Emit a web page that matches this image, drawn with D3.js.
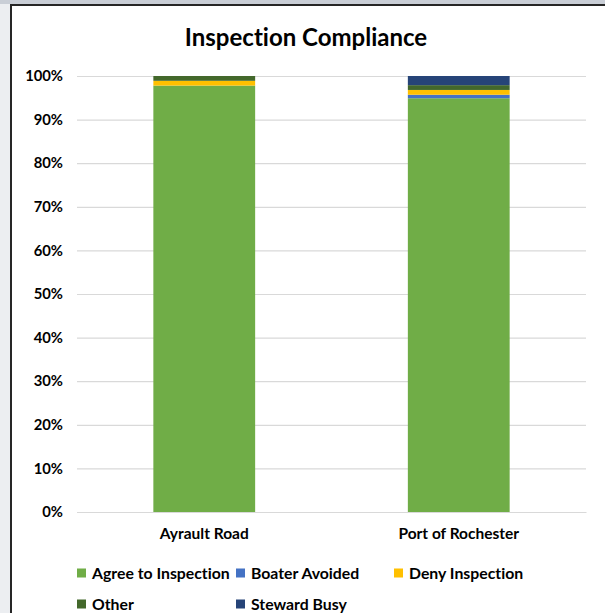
<!DOCTYPE html>
<html><head><meta charset="utf-8">
<script src="https://cdn.jsdelivr.net/npm/d3@7"></script>
<style>
html,body{margin:0;padding:0;background:#c9ced6;}
body{width:605px;height:613px;overflow:hidden;position:relative;}
#leftbar{position:absolute;left:0;top:4px;width:10px;height:609px;background:#eceef1;}
#frame{position:absolute;left:10px;top:4px;width:605px;height:620px;background:#fff;border-left:2px solid #262626;border-top:2px solid #262626;box-sizing:border-box;}
svg{position:absolute;left:0;top:0;}
svg text{font-variant-ligatures:none;font-feature-settings:"liga" 0;}
</style></head>
<body>
<div id="leftbar"></div><div id="frame"></div>
<svg id="chart" width="605" height="613"></svg>
<script>
const categories = ["Ayrault Road", "Port of Rochester"];
const seriesNames = ["Agree to Inspection", "Boater Avoided", "Deny Inspection", "Other", "Steward Busy"];
const agree   = [97.8, 94.9];
const boater  = [0.0, 0.8];
const deny    = [1.1, 1.1];
const other   = [1.1, 1.1];
const steward = [0.0, 2.1];
const yTicks = [0,10,20,30,40,50,60,70,80,90,100];
const colors = ["#70AD47", "#4472C4", "#FFC000", "#43682B", "#264478"];

const seriesVals = [agree, boater, deny, other, steward];
const table = categories.map((c,i)=>{
  const o={cat:c}; seriesNames.forEach((s,j)=>o[s]=seriesVals[j][i]); return o;
});
const stack = d3.stack().keys(seriesNames)(table);

const svg = d3.select("#chart");
const font = "Lato, 'Open Sans', sans-serif";
const pL=77, pR=586, pT=76, pB=512;
const x = d3.scaleBand().domain(categories).range([pL,pR]).paddingInner(0.6).paddingOuter(0.3);
const y = d3.scaleLinear().domain([0,100]).range([pB,pT]);

svg.append("text").attr("x",306).attr("y",46).attr("text-anchor","middle")
  .attr("font-family",font).attr("font-weight","bold").attr("font-size",24).attr("fill","#000")
  .text("Inspection Compliance");

// gridlines
svg.append("g").selectAll("line").data(yTicks).join("line")
  .attr("x1",pL).attr("x2",pR).attr("y1",d=>y(d)+0.5).attr("y2",d=>y(d)+0.5)
  .attr("stroke","#d9d9d9").attr("stroke-width",1.2);

const yAxis = svg.append("g").attr("transform",`translate(${pL},0)`)
  .call(d3.axisLeft(y).tickValues(yTicks).tickFormat(d=>d+"%").tickSize(0).tickPadding(14));
yAxis.select(".domain").remove();
yAxis.selectAll("text").attr("font-family",font).attr("font-weight","bold").attr("font-size",14.8).attr("fill","#000");

svg.append("g").selectAll("g").data(stack).join("g").attr("fill",(d,i)=>colors[i])
  .selectAll("rect").data(d=>d).join("rect")
  .attr("x",d=>x(d.data.cat)).attr("width",x.bandwidth())
  .attr("y",d=>y(d[1])).attr("height",d=>y(d[0])-y(d[1]));

const xAxis = svg.append("g").attr("transform",`translate(0,${pB})`)
  .call(d3.axisBottom(x).tickSize(0).tickPadding(16));
xAxis.select(".domain").attr("stroke","#d9d9d9").attr("stroke-width",1.2);
xAxis.selectAll("text").attr("font-family",font).attr("font-weight","bold").attr("font-size",15.5).attr("fill","#000");

// legend
const legPos = [[77,573],[236,573],[394,573],[77,604],[236,604]];
const leg = svg.append("g").selectAll("g").data(seriesNames).join("g")
  .attr("transform",(d,i)=>`translate(${legPos[i][0]},${legPos[i][1]})`);
leg.append("rect").attr("x",0).attr("y",-4.5).attr("width",9).attr("height",9).attr("fill",(d,i)=>colors[i]);
leg.append("text").attr("x",15).attr("y",0).attr("dy","0.35em")
  .attr("font-family",font).attr("font-weight","bold").attr("font-size",15.8).attr("fill","#000").text(d=>d);
</script>
</body></html>
